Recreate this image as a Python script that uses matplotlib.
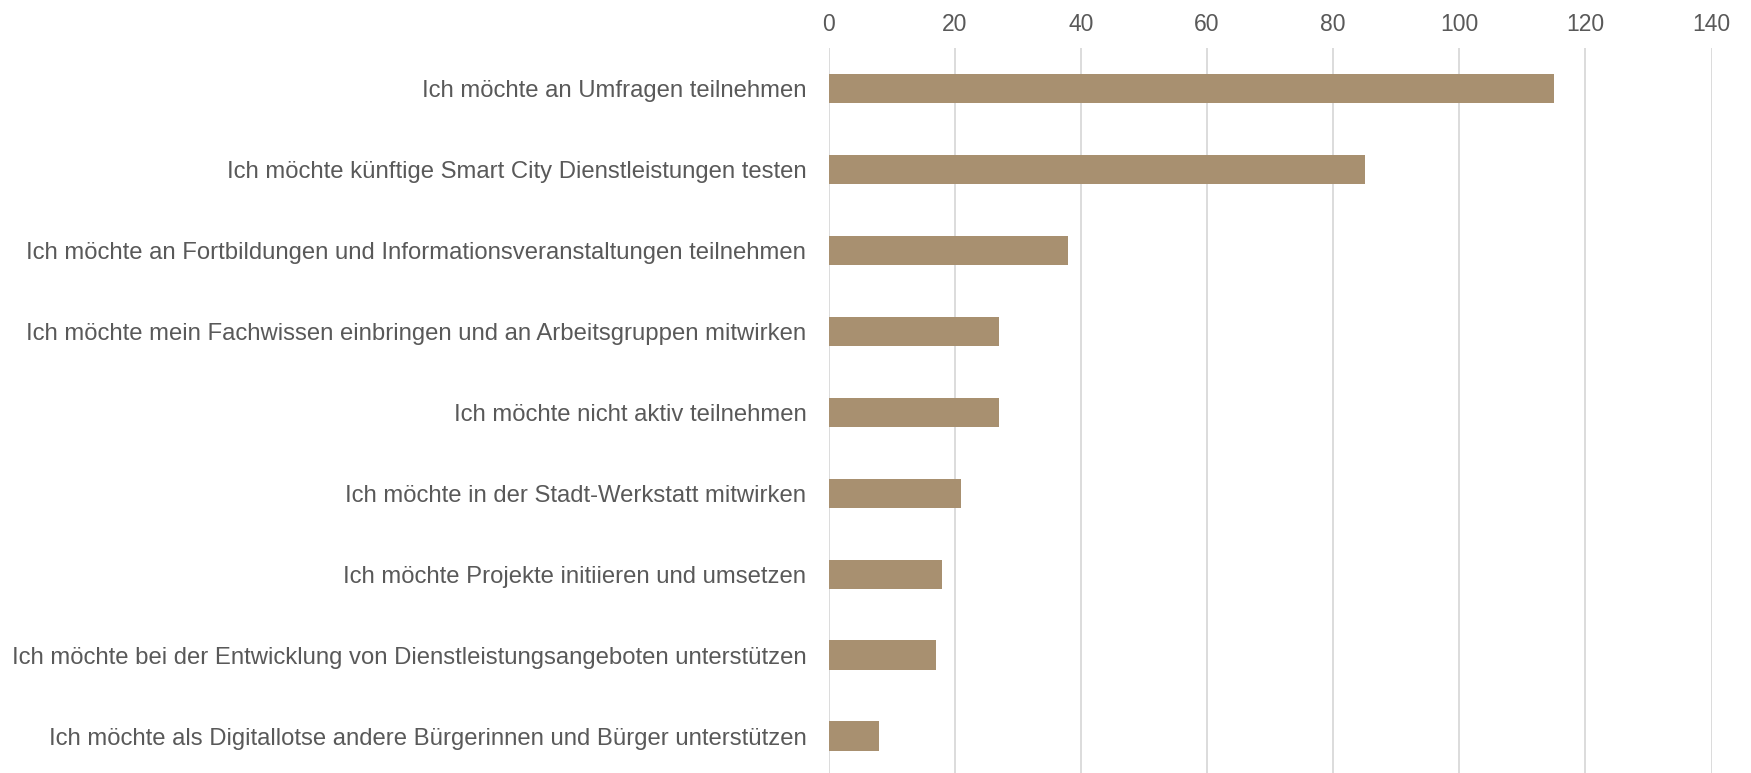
import matplotlib

matplotlib.use("Agg")
import matplotlib.pyplot as plt

# Survey answers, top to bottom as shown
LABELS = [
    "Ich möchte an Umfragen teilnehmen",
    "Ich möchte künftige Smart City Dienstleistungen testen",
    "Ich möchte an Fortbildungen und Informationsveranstaltungen teilnehmen",
    "Ich möchte mein Fachwissen einbringen und an Arbeitsgruppen mitwirken",
    "Ich möchte nicht aktiv teilnehmen",
    "Ich möchte in der Stadt-Werkstatt mitwirken",
    "Ich möchte Projekte initiieren und umsetzen",
    "Ich möchte bei der Entwicklung von Dienstleistungsangeboten unterstützen",
    "Ich möchte als Digitallotse andere Bürgerinnen und Bürger unterstützen",
]
COUNTS = [115, 85, 38, 27, 27, 21, 18, 17, 8]
X_TICKS = [0, 20, 40, 60, 80, 100, 120, 140]

BAR = "#A89070"
GRID = "#D9D9D9"
TEXT = "#595959"

plt.rcParams["font.family"] = ["Liberation Sans", "DejaVu Sans"]

fig = plt.figure(figsize=(17.51, 7.73), dpi=100)
ax = fig.add_axes([0.4732, -0.0045, 0.5043, 0.9421])

ax.barh(range(len(COUNTS)), COUNTS, height=0.362, color=BAR, zorder=2)

ax.set_xlim(0, 140)
ax.set_ylim(len(COUNTS) - 0.5, -0.5)
ax.set_xticks(X_TICKS)
ax.set_yticks(range(len(LABELS)))
ax.set_yticklabels(LABELS)

ax.xaxis.tick_top()
ax.tick_params(axis="x", length=0, pad=9, labelsize=16.5, labelcolor=TEXT)
ax.tick_params(axis="y", length=0, pad=16, labelsize=17.2, labelcolor=TEXT)

ax.grid(axis="x", color=GRID, linewidth=1.3, zorder=0)
ax.set_axisbelow(True)
for s in ax.spines.values():
    s.set_visible(False)

fig.savefig("out.png", dpi=100)
